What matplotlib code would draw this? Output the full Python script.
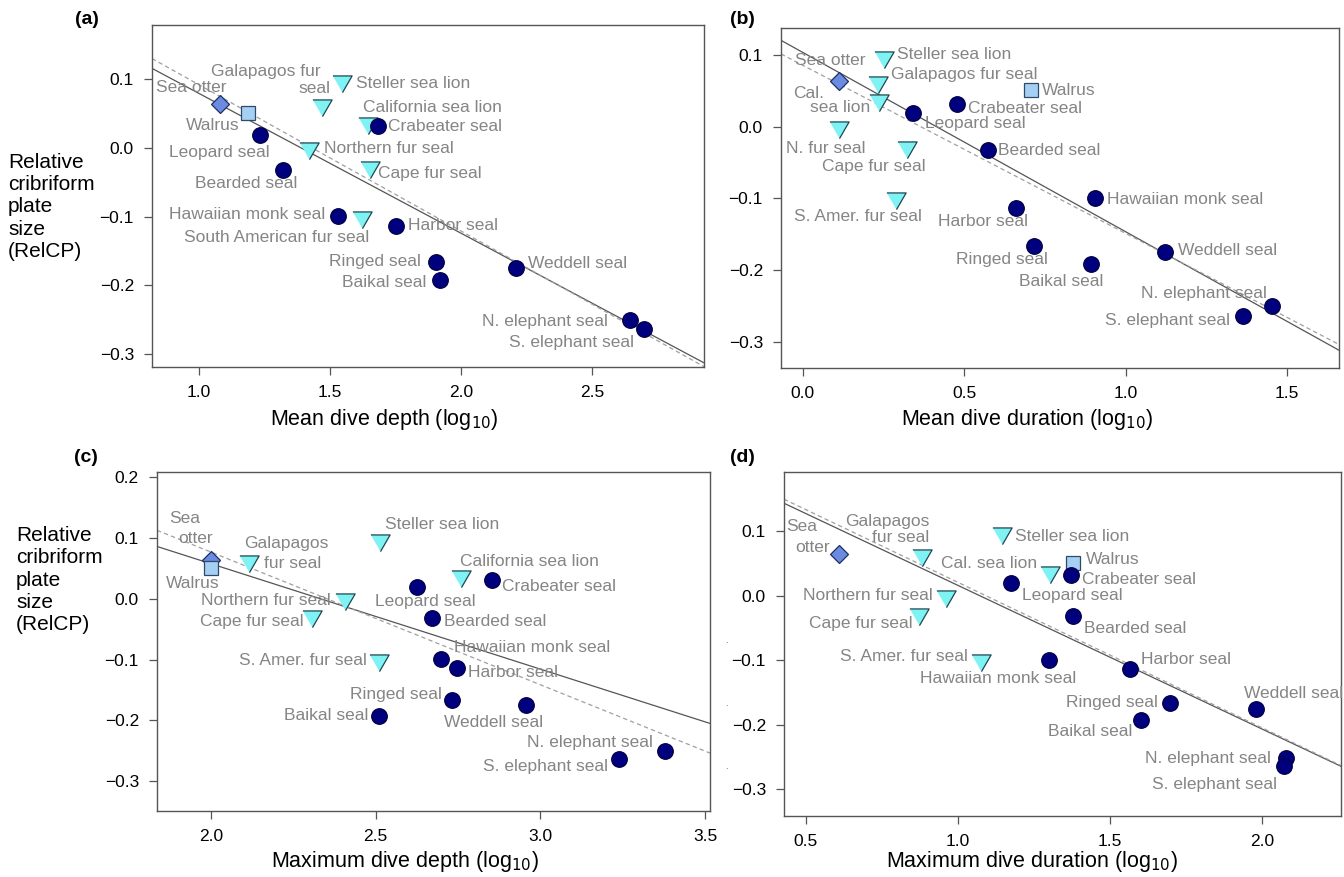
import matplotlib
matplotlib.use("Agg")
import matplotlib.pyplot as plt

plt.rcParams['font.family'] = ['Liberation Sans', 'DejaVu Sans']

# ---------------- data ----------------
species = ["Sea otter", "Walrus", "Galapagos fur seal", "Steller sea lion",
           "California sea lion", "Northern fur seal", "Cape fur seal",
           "South American fur seal", "Crabeater seal", "Leopard seal",
           "Bearded seal", "Hawaiian monk seal", "Harbor seal", "Ringed seal",
           "Baikal seal", "Weddell seal", "N. elephant seal", "S. elephant seal"]
group = ["mustelid", "odobenid", "otariid", "otariid", "otariid", "otariid",
         "otariid", "otariid", "phocid", "phocid", "phocid", "phocid", "phocid",
         "phocid", "phocid", "phocid", "phocid", "phocid"]
relcp = [0.064, 0.051, 0.062, 0.097, 0.037, 0.000, -0.028, -0.100, 0.032,
         0.019, -0.032, -0.099, -0.113, -0.166, -0.192, -0.175, -0.251, -0.264]
mean_depth = [1.082, 1.187, 1.470, 1.547, 1.646, 1.421, 1.651, 1.624, 1.682,
              1.232, 1.320, 1.529, 1.752, 1.904, 1.918, 2.209, 2.646, 2.697]
mean_duration = [0.111, 0.708, 0.232, 0.252, 0.236, 0.112, 0.323, 0.289, 0.479,
                 0.341, 0.573, 0.904, 0.659, 0.716, 0.891, 1.121, 1.452, 1.362]
max_depth = [2.000, 2.000, 2.116, 2.514, 2.760, 2.407, 2.307, 2.511, 2.852,
             2.625, 2.671, 2.698, 2.746, 2.733, 2.510, 2.957, 3.377, 3.239]
max_duration = [0.609, 1.380, 0.883, 1.144, 1.302, 0.960, 0.872, 1.078, 1.373,
                1.176, 1.380, 1.299, 1.567, 1.698, 1.603, 1.981, 2.078, 2.074]

# regression lines (intercept, slope)
solid_fit = {"a": (0.283, -0.2036), "b": (0.104, -0.2507),
             "c": (0.405, -0.1735), "d": (0.238, -0.2222)}
dashed_fit = {"a": (0.305, -0.213), "b": (0.086, -0.235),
              "c": (0.514, -0.2184), "d": (0.2455, -0.225)}

x_titles = {"a": "Mean dive depth (log$_{10}$)", "b": "Mean dive duration (log$_{10}$)",
            "c": "Maximum dive depth (log$_{10}$)", "d": "Maximum dive duration (log$_{10}$)"}
x_ticks = {"a": [1.0, 1.5, 2.0, 2.5], "b": [0.0, 0.5, 1.0, 1.5],
           "c": [2.0, 2.5, 3.0, 3.5], "d": [0.5, 1.0, 1.5, 2.0]}
y_ticks = {"a": [-0.3, -0.2, -0.1, 0.0, 0.1], "b": [-0.3, -0.2, -0.1, 0.0, 0.1],
           "c": [-0.3, -0.2, -0.1, 0.0, 0.1, 0.2], "d": [-0.3, -0.2, -0.1, 0.0, 0.1]}

labels = {
    "a": [("Sea otter", 1.104, 0.088, 'right'), ("Walrus", 1.156, 0.032, 'right'),
          ("Galapagos fur", 1.465, 0.111, 'right'), ("seal", 1.501, 0.087, 'right'),
          ("Steller sea lion", 1.600, 0.094, 'left'),
          ("California sea lion", 1.626, 0.059, 'left'),
          ("Crabeater seal", 1.723, 0.031, 'left'), ("Leopard seal", 1.271, -0.006, 'right'),
          ("Northern fur seal", 1.478, -0.001, 'left'), ("Cape fur seal", 1.683, -0.037, 'left'),
          ("Bearded seal", 1.375, -0.052, 'right'),
          ("Hawaiian monk seal", 1.481, -0.097, 'right'),
          ("South American fur seal", 1.649, -0.130, 'right'),
          ("Harbor seal", 1.797, -0.113, 'left'), ("Ringed seal", 1.848, -0.165, 'right'),
          ("Baikal seal", 1.867, -0.196, 'right'), ("Weddell seal", 2.257, -0.168, 'left'),
          ("N. elephant seal", 2.562, -0.253, 'right'),
          ("S. elephant seal", 2.661, -0.283, 'right')],
    "b": [("Sea otter", 0.193, 0.093, 'right'), ("Steller sea lion", 0.293, 0.101, 'left'),
          ("Galapagos fur seal", 0.273, 0.073, 'left'), ("Cal.", -0.031, 0.047, 'left'),
          ("sea lion", 0.208, 0.027, 'right'), ("Walrus", 0.742, 0.050, 'left'),
          ("Crabeater seal", 0.513, 0.026, 'left'), ("Leopard seal", 0.378, 0.004, 'left'),
          ("N. fur seal", 0.193, -0.031, 'right'), ("Cape fur seal", 0.382, -0.056, 'right'),
          ("Bearded seal", 0.605, -0.033, 'left'),
          ("S. Amer. fur seal", 0.368, -0.126, 'right'),
          ("Hawaiian monk seal", 0.943, -0.101, 'left'),
          ("Harbor seal", 0.696, -0.133, 'right'), ("Ringed seal", 0.759, -0.186, 'right'),
          ("Baikal seal", 0.931, -0.216, 'right'), ("Weddell seal", 1.161, -0.173, 'left'),
          ("N. elephant seal", 1.436, -0.233, 'right'),
          ("S. elephant seal", 1.322, -0.271, 'right')],
    "c": [("Sea", 1.873, 0.133, 'left'), ("otter", 1.901, 0.099, 'left'),
          ("Galapagos", 2.102, 0.092, 'left'), ("fur seal", 2.162, 0.058, 'left'),
          ("Walrus", 1.863, 0.026, 'left'), ("Steller sea lion", 2.527, 0.122, 'left'),
          ("California sea lion", 2.756, 0.062, 'left'),
          ("Crabeater seal", 2.884, 0.020, 'left'),
          ("Northern fur seal", 2.365, -0.002, 'right'),
          ("Leopard seal", 2.497, -0.004, 'left'), ("Cape fur seal", 2.280, -0.037, 'right'),
          ("Bearded seal", 2.707, -0.037, 'left'),
          ("Hawaiian monk seal", 2.737, -0.080, 'left'),
          ("S. Amer. fur seal", 2.474, -0.102, 'right'),
          ("Harbor seal", 2.779, -0.121, 'left'), ("Ringed seal", 2.700, -0.158, 'right'),
          ("Baikal seal", 2.477, -0.191, 'right'), ("Weddell seal", 2.707, -0.204, 'left'),
          ("N. elephant seal", 3.342, -0.237, 'right'),
          ("S. elephant seal", 3.206, -0.275, 'right')],
    "d": [("Sea", 0.436, 0.107, 'left'), ("otter", 0.467, 0.074, 'left'),
          ("Galapagos", 0.907, 0.114, 'right'), ("fur seal", 0.907, 0.089, 'right'),
          ("Steller sea lion", 1.187, 0.092, 'left'), ("Cal. sea lion", 1.262, 0.050, 'right'),
          ("Walrus", 1.421, 0.055, 'left'), ("Crabeater seal", 1.407, 0.025, 'left'),
          ("Leopard seal", 1.212, 0.000, 'left'),
          ("Northern fur seal", 0.919, 0.000, 'right'),
          ("Cape fur seal", 0.853, -0.044, 'right'), ("Bearded seal", 1.414, -0.051, 'left'),
          ("S. Amer. fur seal", 1.032, -0.095, 'right'),
          ("Hawaiian monk seal", 0.875, -0.129, 'left'),
          ("Harbor seal", 1.603, -0.099, 'left'), ("Ringed seal", 1.657, -0.165, 'right'),
          ("Baikal seal", 1.574, -0.210, 'right'), ("Weddell seal", 1.940, -0.151, 'left'),
          ("N. elephant seal", 2.028, -0.252, 'right'),
          ("S. elephant seal", 2.050, -0.292, 'right')],
}

# ---------------- styles / layout ----------------
W, H = 1344, 877
panel_px = {"a": (152, 25, 704, 367), "b": (781, 28, 1339, 368),
            "c": (157, 472, 710, 811), "d": (784, 472, 1341, 816)}
xlims = {"a": (0.821, 2.927), "b": (-0.067, 1.66), "c": (1.836, 3.515), "d": (0.429, 2.26)}
ylims = {"a": (-0.319, 0.179), "b": (-0.337, 0.138), "c": (-0.349, 0.209), "d": (-0.341, 0.191)}
xdata = {"a": mean_depth, "b": mean_duration, "c": max_depth, "d": max_duration}
letter_px = {"a": (87, 20), "b": (742, 20), "c": (86, 458), "d": (742, 457)}
xtitle_px = {"a": (384, 419), "b": (1027, 419), "c": (405, 862), "d": (1032, 862)}
ylab_px = {"a": (8, 207), "c": (16, 580)}
stray_dots_px = [(726, 640), (726, 703), (726, 766)]

tri = [(-1.0, 0.577), (1.0, 0.577), (0.0, -1.155)]
style = {
    "phocid": dict(marker='o', ms=11.2, mfc='#00007f', mec='#000044', mew=0.9),
    "otariid": dict(marker=tri, ms=16.0, mfc='#7ff3f3', mec='#1f4650', mew=0.9),
    "odobenid": dict(marker='s', ms=10.0, mfc='#a6cff4', mec='#2e4a66', mew=0.9),
    "mustelid": dict(marker='D', ms=9.0, mfc='#6a8be0', mec='#1e2e66', mew=0.9),
}
frame_col = '#555555'
label_col = '#858585'

fig = plt.figure(figsize=(W / 100, H / 100), dpi=100)

for key in ["a", "b", "c", "d"]:
    l, t, r, b = panel_px[key]
    ax = fig.add_axes([l / W, 1 - b / H, (r - l) / W, (b - t) / H])
    ax.set_xlim(*xlims[key])
    ax.set_ylim(*ylims[key])
    # regression lines
    b0, m0 = solid_fit[key]
    ax.axline((0, b0), slope=m0, color='#555555', lw=0.9, zorder=2)
    b1, m1 = dashed_fit[key]
    ax.axline((0, b1), slope=m1, color='#a0a0a0', lw=0.9, ls=(0, (3.5, 2.5)), zorder=2)
    # labels
    for txt, lx, ly, ha in labels[key]:
        ax.text(lx, ly, txt, ha=ha, va='center', fontsize=12.5, color=label_col, zorder=3)
    # points
    xs = xdata[key]
    for i in range(len(species)):
        ax.plot(xs[i], relcp[i], ls='none', zorder=4, **style[group[i]])
    ax.set_xticks(x_ticks[key])
    ax.set_yticks(y_ticks[key])
    ax.set_xticklabels([f"{v:.1f}" for v in x_ticks[key]])
    ax.set_yticklabels([f"{v:.1f}".replace("-", "\u2212") for v in y_ticks[key]])
    ax.tick_params(direction='out', length=6, width=0.9, color=frame_col,
                   labelsize=12.5, pad=7)
    for s in ax.spines.values():
        s.set_color(frame_col)
        s.set_linewidth(1.0)
    lx, ly = letter_px[key]
    fig.text(lx / W, 1 - ly / H, f"({key})", ha='center', va='center',
             fontsize=14, fontweight='bold')
    tx, ty = xtitle_px[key]
    fig.text(tx / W, 1 - ty / H, x_titles[key], ha='center', va='center', fontsize=15.5)

for key, (px, py) in ylab_px.items():
    fig.text(px / W, 1 - py / H, "Relative\ncribriform\nplate\nsize\n(RelCP)",
             ha='left', va='center', fontsize=15, linespacing=1.22)

for px, py in stray_dots_px:
    fig.text(px / W, 1 - py / H, ".", ha='center', va='center', fontsize=7, color='#555555')

fig.savefig("out.png", dpi=100)
